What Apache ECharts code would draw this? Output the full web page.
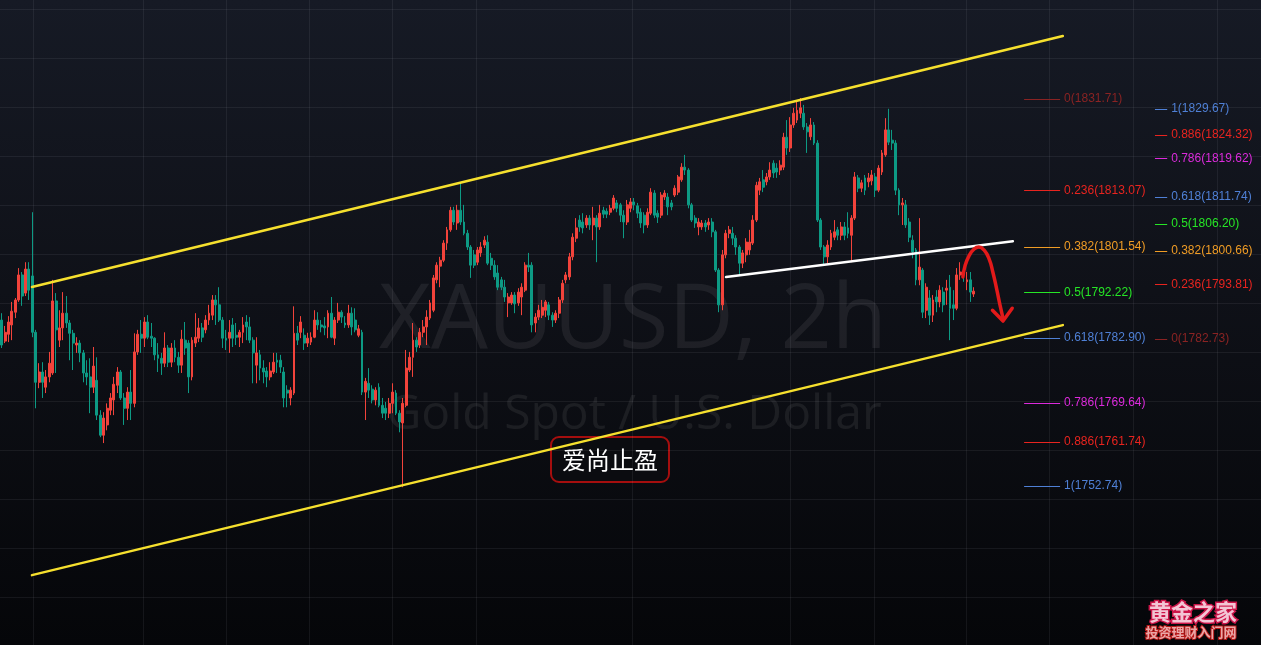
<!DOCTYPE html>
<html><head><meta charset="utf-8">
<script src="https://cdn.jsdelivr.net/npm/echarts/dist/echarts.min.js"></script>
<style>
html,body{margin:0;padding:0;background:#0b0d12;}
#c{width:1261px;height:645px;background:linear-gradient(180deg,#161a25 0%,#0f1118 45%,#050609 100%);}
</style>
</head><body><div id="c"></div>
<script>
// XAUUSD 2h candles: [open, close, low, high]
const candlesA = [
[1786.6,1781.5,1780.9,1788.0],[1782.3,1784.1,1781.9,1785.4],[1783.7,1786.2,1782.1,1787.4],[1785.6,1788.4,1782.5,1790.3],
[1788.2,1790.7,1787.0,1791.1],[1790.7,1795.8,1790.3,1797.2],[1795.8,1791.5,1789.5,1796.4],[1792.1,1797.0,1791.5,1798.4],
[1797.0,1792.7,1790.7,1798.4],[1795.6,1784.1,1783.1,1808.6],[1784.1,1773.9,1768.6,1784.6],[1773.9,1776.0,1772.7,1777.8],
[1776.0,1773.9,1770.7,1778.0],[1772.9,1775.0,1771.7,1776.4],[1775.0,1777.8,1773.9,1780.1],[1775.8,1790.5,1775.4,1794.8],
[1790.5,1784.6,1775.8,1792.1],[1782.5,1785.0,1781.1,1788.6],[1785.0,1788.0,1782.5,1792.3],[1788.0,1786.0,1785.0,1791.5],
[1786.0,1783.9,1778.4,1786.6],[1783.9,1781.9,1776.4,1784.6],[1781.5,1781.9,1779.9,1783.1],[1781.9,1779.9,1778.0,1782.5],
[1779.9,1775.8,1773.9,1780.5],[1775.8,1775.0,1773.3,1778.4],[1775.0,1772.9,1767.6,1778.8],[1772.9,1777.2,1771.7,1781.1],
[1774.3,1767.2,1766.2,1779.0],[1767.2,1763.1,1762.7,1768.2],[1763.1,1766.6,1761.5,1767.8],[1765.2,1768.6,1764.1,1769.6],
[1768.2,1770.7,1767.2,1771.7],[1770.3,1773.5,1767.2,1775.0],[1773.3,1776.0,1771.7,1777.0],[1776.0,1770.7,1770.3,1776.4],
[1770.7,1768.6,1765.2,1771.7],[1768.6,1771.9,1766.2,1772.9],[1771.9,1769.6,1766.2,1776.4],[1769.6,1780.1,1768.8,1783.9],
[1780.1,1783.7,1779.5,1784.6],[1783.7,1782.9,1779.9,1786.6],[1782.9,1786.2,1781.1,1787.2],[1786.2,1783.1,1782.7,1787.6],
[1783.3,1782.9,1781.1,1786.0],[1782.9,1779.5,1778.4,1783.1],[1779.5,1778.8,1776.0,1781.9],[1778.8,1777.8,1775.4,1779.9],
[1777.8,1780.9,1777.0,1784.1],[1780.9,1778.0,1777.0,1781.5],[1778.0,1780.9,1777.0,1781.9],[1780.9,1779.0,1778.0,1782.5],
[1779.0,1777.4,1775.8,1780.1],[1777.4,1782.7,1775.8,1784.6],[1782.5,1780.9,1779.5,1786.2],[1781.9,1775.0,1771.7,1782.5],
[1775.0,1782.5,1774.3,1783.1],[1781.9,1783.1,1781.1,1788.0],[1782.9,1785.0,1782.1,1787.0],[1785.0,1783.1,1782.1,1786.0],
[1784.6,1786.6,1783.9,1787.6],[1786.6,1788.0,1785.6,1789.7],[1787.6,1790.7,1786.6,1791.7],[1790.7,1789.7,1785.6,1791.7],
[1789.7,1786.6,1786.2,1793.3],[1786.6,1782.9,1780.9,1787.2],[1782.9,1782.5,1780.5,1784.6],[1782.9,1784.1,1779.9,1786.6],
[1785.6,1782.9,1781.1,1787.0],[1783.5,1783.1,1781.5,1786.0],[1783.1,1784.1,1781.1,1784.6],[1784.1,1785.6,1781.9,1787.2],
[1786.2,1785.2,1782.5,1787.6],[1785.2,1782.5,1781.9,1787.2],[1782.5,1779.9,1773.7,1783.1],[1777.4,1779.9,1773.7,1783.1],
[1779.5,1776.8,1774.3,1780.5],[1776.8,1776.0,1773.7,1778.4],[1776.2,1775.0,1772.9,1777.0],[1775.0,1776.2,1774.3,1778.0],
[1776.0,1778.0,1775.6,1779.9],[1778.4,1778.0,1775.8,1779.9],[1778.4,1777.0,1775.8,1779.5],[1776.0,1770.7,1768.8,1777.0],
[1772.3,1771.7,1768.8,1773.3],[1770.7,1772.3,1769.2,1772.9],[1771.7,1783.9,1771.3,1789.4],[1783.9,1782.5,1781.5,1785.4]
];
const candlesB = [
[1784.1,1786.2,1782.9,1787.4],[1783.5,1781.9,1780.5,1784.9],[1781.9,1782.9,1781.1,1784.0],[1782.1,1783.1,1781.5,1784.1],
[1783.1,1786.6,1782.9,1788.6],[1786.6,1785.6,1784.6,1788.2],[1785.6,1785.2,1784.1,1786.6],[1785.4,1785.0,1783.5,1787.2],
[1785.2,1788.0,1782.9,1788.6],[1788.0,1783.1,1782.9,1791.3],[1782.9,1786.6,1781.5,1787.2],[1786.6,1788.2,1786.0,1790.1],
[1788.2,1787.2,1786.0,1788.6],[1786.0,1785.6,1785.0,1787.4],[1785.6,1788.0,1785.0,1789.7],[1788.0,1785.2,1783.5,1789.2],
[1786.6,1784.6,1784.1,1789.0],[1783.5,1784.8,1783.1,1785.6],[1784.1,1771.9,1771.3,1784.6],[1771.9,1774.1,1766.2,1774.8],
[1773.7,1772.3,1770.7,1776.8],[1772.5,1770.3,1769.6,1773.3],[1770.3,1772.3,1769.2,1772.9],[1772.9,1769.2,1768.8,1773.7],
[1769.2,1767.6,1766.6,1770.7],[1768.6,1767.6,1766.2,1769.9],[1767.6,1769.6,1766.6,1770.7],[1769.6,1771.9,1767.6,1773.7],
[1771.7,1767.6,1767.2,1772.3],[1767.6,1765.8,1763.7,1768.2],[1765.6,1769.6,1752.5,1770.7],[1769.2,1776.8,1768.8,1780.5],
[1776.4,1779.0,1776.0,1780.1],[1779.0,1782.5,1775.0,1786.0],[1782.5,1781.1,1780.1,1783.1],[1781.5,1784.1,1780.9,1785.0],
[1784.1,1785.2,1783.1,1786.6],[1785.2,1787.2,1781.5,1788.6],[1787.0,1790.1,1786.6,1790.7],[1788.6,1795.2,1788.2,1795.8],
[1794.8,1797.8,1794.1,1798.4],[1797.6,1798.8,1793.3,1799.5],[1798.8,1802.3,1798.4,1802.9],[1802.3,1805.0,1800.9,1805.6],
[1805.0,1809.0,1804.6,1809.7],[1809.0,1806.6,1806.0,1809.7],[1806.4,1809.0,1805.0,1810.1],[1809.0,1806.6,1806.0,1814.6],
[1806.6,1804.3,1803.9,1810.1],[1804.3,1801.5,1800.9,1805.0],[1801.5,1797.8,1795.2,1801.9],[1799.9,1797.8,1797.2,1800.9],
[1798.4,1800.9,1797.8,1801.5],[1800.3,1801.5,1799.5,1802.5],[1801.9,1802.9,1801.3,1803.7],[1802.5,1798.2,1797.8,1803.9],
[1799.2,1797.8,1796.8,1800.3],[1797.8,1795.4,1794.8,1798.8],[1796.2,1793.3,1792.7,1797.8],[1794.8,1793.3,1792.7,1795.4],
[1793.3,1791.3,1790.3,1794.8],[1790.1,1791.3,1787.2,1792.1],[1790.1,1791.7,1789.7,1792.3],[1791.7,1789.9,1788.0,1792.3],
[1790.1,1792.3,1789.5,1793.1],[1791.3,1793.3,1787.6,1794.1],[1792.7,1797.8,1792.3,1798.4],[1797.8,1797.4,1796.4,1800.3],
[1797.8,1785.6,1784.1,1798.4],[1786.0,1787.2,1784.1,1788.0],[1787.2,1788.6,1786.6,1789.7],[1787.6,1789.2,1787.0,1790.7],
[1788.6,1790.3,1787.2,1790.7],[1789.7,1787.6,1786.6,1790.3],[1787.6,1786.6,1785.2,1788.2],[1786.6,1788.0,1786.0,1788.6],
[1788.0,1790.7,1787.0,1791.3],[1790.7,1794.1,1790.1,1794.8],[1794.8,1795.8,1794.1,1796.4],[1795.4,1799.5,1794.8,1800.3],
[1799.5,1803.5,1798.8,1804.3],[1803.3,1805.4,1802.5,1807.4],[1807.0,1805.6,1804.6,1808.0],[1806.6,1805.4,1804.3,1808.4],
[1806.0,1807.4,1805.4,1808.0],[1807.4,1806.0,1805.0,1808.0],[1806.0,1807.4,1802.9,1809.7],[1807.4,1805.6,1798.4,1808.0]
];
const candlesC = [
[1805.6,1808.4,1805.0,1810.1],[1809.0,1808.2,1807.4,1809.7],[1808.8,1808.2,1807.4,1809.4],[1808.6,1809.4,1808.0,1810.1],
[1809.4,1811.5,1809.0,1812.1],[1810.5,1809.4,1808.6,1811.1],[1810.1,1808.0,1806.6,1810.5],[1808.0,1806.6,1803.3,1809.0],
[1806.6,1810.1,1806.0,1811.1],[1809.4,1810.7,1808.6,1811.5],[1810.7,1810.1,1809.0,1811.5],[1809.9,1808.4,1807.4,1810.5],
[1808.6,1806.4,1805.4,1809.4],[1808.0,1806.0,1804.3,1808.6],[1806.0,1808.6,1805.4,1809.4],[1808.4,1812.7,1808.0,1813.5],
[1812.5,1808.0,1807.4,1813.1],[1808.4,1807.6,1806.4,1809.0],[1808.0,1812.1,1807.4,1812.7],[1811.7,1812.5,1811.1,1813.1],
[1811.7,1809.7,1808.0,1812.5],[1810.5,1809.7,1809.0,1811.1],[1812.1,1813.5,1811.7,1814.1],[1812.7,1815.8,1812.1,1816.2],
[1815.2,1817.8,1814.8,1818.6],[1817.8,1817.2,1816.2,1820.3],[1817.2,1810.1,1809.4,1817.6],[1810.1,1807.0,1806.6,1810.5],
[1807.4,1806.4,1805.4,1808.0],[1805.6,1806.6,1803.9,1807.4],[1805.6,1806.4,1805.0,1807.0],[1806.4,1805.6,1804.6,1807.0],
[1806.0,1806.6,1805.0,1807.4],[1806.6,1804.6,1803.5,1807.4],[1804.6,1796.8,1796.4,1805.0],[1796.8,1789.7,1788.2,1797.2],
[1789.7,1799.9,1788.6,1800.9],[1799.9,1804.3,1799.2,1805.0],[1804.3,1805.0,1803.3,1805.8],[1804.3,1803.3,1801.9,1805.6],
[1803.3,1801.5,1799.9,1803.9],[1801.5,1798.2,1795.8,1801.9],[1798.2,1800.3,1797.2,1800.9],[1799.9,1802.5,1798.4,1803.3],
[1800.9,1802.5,1799.9,1805.0],[1802.3,1807.0,1801.9,1808.0],[1807.0,1814.1,1806.6,1814.8],[1813.1,1814.8,1812.1,1815.6],
[1815.2,1813.7,1812.7,1817.2],[1814.8,1815.8,1814.1,1816.6],[1815.8,1817.2,1815.2,1818.8],[1818.6,1816.6,1815.6,1819.2],
[1817.6,1816.8,1815.6,1818.6],[1817.2,1818.2,1816.2,1819.2],[1817.8,1823.9,1817.2,1824.8],[1823.9,1821.7,1820.3,1827.4],
[1821.7,1826.4,1820.9,1828.0],[1826.4,1828.8,1825.8,1829.9],[1827.4,1829.4,1826.8,1831.5],[1828.8,1829.9,1827.8,1831.9],
[1828.8,1826.0,1825.4,1830.5],[1826.0,1825.0,1820.7,1826.8],[1824.0,1826.4,1823.3,1827.8],[1826.4,1822.7,1822.3,1827.0],
[1822.7,1807.0,1806.6,1823.3],[1807.0,1801.5,1800.9,1807.4],[1801.5,1799.5,1797.8,1801.9],[1799.5,1801.9,1798.2,1802.9],
[1801.5,1804.3,1800.9,1805.0],[1803.5,1804.6,1802.9,1807.0],[1805.0,1803.9,1802.9,1805.6],[1803.9,1805.6,1802.9,1806.6],
[1805.6,1803.9,1802.9,1806.6],[1805.4,1804.3,1803.3,1808.6],[1803.9,1807.4,1798.4,1808.0],[1807.4,1815.8,1807.0,1816.8]
];
const candlesD = [
[1815.6,1813.5,1812.7,1816.2],[1813.5,1814.6,1812.7,1815.2],[1815.6,1813.1,1812.1,1816.2],[1814.8,1815.6,1813.7,1816.6],
[1815.0,1816.2,1814.1,1817.2],[1815.8,1813.1,1811.7,1816.6],[1813.1,1817.6,1812.7,1818.2],[1816.8,1820.7,1816.2,1821.3],
[1820.3,1825.4,1819.9,1827.8],[1825.4,1822.9,1822.3,1829.7],[1823.3,1822.7,1821.3,1825.4],[1822.7,1813.1,1812.1,1823.3],
[1813.1,1810.1,1808.0,1813.5],[1810.1,1810.5,1806.0,1811.5],[1810.1,1806.0,1805.4,1811.1],[1806.6,1803.5,1802.5,1807.4],
[1802.9,1800.5,1799.2,1803.9],[1800.9,1794.8,1793.7,1801.3],[1794.8,1797.4,1793.7,1807.4],[1796.8,1788.2,1787.0,1797.2],
[1788.6,1793.3,1787.0,1794.1],[1791.1,1787.6,1785.6,1792.7],[1787.6,1790.7,1786.2,1791.7],[1791.3,1790.3,1788.2,1792.7],
[1790.3,1792.7,1789.2,1793.7],[1792.3,1789.7,1788.2,1793.3],[1792.7,1793.1,1789.7,1794.8],[1793.3,1789.0,1782.5,1795.8],
[1789.7,1789.0,1786.6,1792.7],[1789.0,1795.8,1788.6,1797.2],[1795.8,1796.4,1794.8,1798.4],[1796.4,1795.8,1794.4,1797.2],
[1794.4,1794.8,1792.7,1796.4],[1794.8,1792.3,1790.3,1796.4],[1791.9,1792.5,1791.3,1793.3]
];

// price scale shown in the frame
const priceMin = 1720.3, priceMax = 1851.9;
const slotCount = 371;               // time slots across the frame (incl. empty future space)
const priceGrid = [1730,1740,1750,1760,1770,1780,1790,1800,1810,1820,1830,1840,1850];
const timeGrid = [9.2,41.6,66.0,90.4,114.8,139.5,185.4,231.9,256.6,283.7,308.1,332.8,357.5];

// Fibonacci retracements (level, price, colour)
const fibLeft = [
  ['0',1831.71,'#8a2323'],['0.236',1813.07,'#e8241f'],['0.382',1801.54,'#f09c25'],['0.5',1792.22,'#26e626'],
  ['0.618',1782.90,'#4f80d6'],['0.786',1769.64,'#dc2adc'],['0.886',1761.74,'#e8241f'],['1',1752.74,'#4f80d6']
];
const fibRight = [
  ['1',1829.67,'#4f80d6'],['0.886',1824.32,'#e8241f'],['0.786',1819.62,'#dc2adc'],['0.618',1811.74,'#4f80d6'],
  ['0.5',1806.20,'#26e626'],['0.382',1800.66,'#f09c25'],['0.236',1793.81,'#e8241f'],['0',1782.73,'#8a2323']
];
const fibLeftSpan = [300.8, 311.4];
const fibRightSpan = [339.3, 342.9];

// trend lines [slot, price]
const channelUpper = [[8.9,1793.33],[312.2,1844.55]];
const channelLower = [[8.9,1734.55],[312.2,1785.57]];
const necklineWhite = [[213.1,1795.37],[297.5,1802.70]];
const arrowArc = [[282.8,1795.4],[283.4,1797.6],[284.6,1799.7],[286.1,1801.1],[287.5,1801.5],[289.0,1800.9],
                  [290.5,1799.1],[291.6,1796.4],[292.8,1792.7],[293.7,1789.7],[294.6,1787.0]];
const arrowHead = [[291.5,1788.6],[294.6,1786.4],[297.3,1789.0]];

const candles = candlesA.concat(candlesB, candlesC, candlesD);
const slots = Array.from({length: slotCount}, (_, i) => String(i));

const chart = echarts.init(document.getElementById('c'), null, {renderer: 'canvas'});

function fibSeries(levels, span) {
  return {
    type: 'line', xAxisIndex: 1, yAxisIndex: 0, data: [], silent: true,
    markLine: {
      z: 6, silent: true, symbol: ['none', 'none'], animation: false,
      data: levels.map(([lvl, price, color]) => [
        { coord: [span[0], price], lineStyle: {color: color, width: 1, type: 'solid'},
          label: { show: true, position: 'end', distance: 4, formatter: lvl + '(' + price.toFixed(2) + ')',
                   color: color, fontSize: 12, fontFamily: '"Liberation Sans", Arial, sans-serif' } },
        { coord: [span[1], price] }
      ])
    }
  };
}
function trend(data, color, width, z, smooth) {
  return { type: 'line', xAxisIndex: 1, yAxisIndex: 0, data: data, symbol: 'none', silent: true, z: z,
           smooth: smooth || false, lineStyle: {color: color, width: width, cap: 'round', join: 'round'} };
}

const option = {
  backgroundColor: 'transparent',
  animation: false,
  grid: {left: 0, right: 0, top: 0, bottom: 0, containLabel: false},
  xAxis: [
    {type: 'category', data: slots, show: false, boundaryGap: true},
    {type: 'value', min: -0.5, max: slotCount - 0.5, show: false}
  ],
  yAxis: {type: 'value', min: priceMin, max: priceMax, show: false, splitLine: {show: false}},
  graphic: [
    {type: 'text', x: 633, y: 322, z: 0, silent: true,
     style: {text: 'XAUUSD, 2h', font: '90px "Open Sans", Roboto, sans-serif', fill: 'rgba(255,255,255,0.07)', align: 'center', verticalAlign: 'middle'}},
    {type: 'text', x: 634, y: 415, z: 0, silent: true,
     style: {text: 'Gold Spot / U.S. Dollar', font: '48px "Open Sans", Roboto, sans-serif', fill: 'rgba(255,255,255,0.07)', align: 'center', verticalAlign: 'middle'}},
    {type: 'group', x: 551, y: 437, z: 100, silent: true, children: [
      {type: 'rect', shape: {x: 0, y: 0, width: 118, height: 45, r: 8}, style: {fill: '#0b0c10', stroke: '#a50e0e', lineWidth: 2}},
      {type: 'text', x: 59, y: 23, style: {text: '爱尚止盈', font: '24px "Noto Sans CJK SC", sans-serif', fill: '#ffffff', align: 'center', verticalAlign: 'middle'}}
    ]},
    {type: 'text', x: 1193, y: 612, z: 100, silent: true,
     style: {text: '黄金之家', font: 'bold 22px "Noto Sans CJK SC", sans-serif', fill: '#f3c6d5', stroke: '#cc1549', lineWidth: 3, strokeFirst: true, align: 'center', verticalAlign: 'middle'}},
    {type: 'text', x: 1191, y: 632, z: 100, silent: true,
     style: {text: '投资理财入门网', font: 'bold 13px "Noto Sans CJK SC", sans-serif', fill: '#eaa6a6', stroke: '#b81818', lineWidth: 2, strokeFirst: true, align: 'center', verticalAlign: 'middle'}}
  ],
  series: [
    {
      type: 'line', xAxisIndex: 1, yAxisIndex: 0, data: [], silent: true,
      markLine: {
        z: 1, silent: true, symbol: ['none', 'none'], animation: false, label: {show: false},
        lineStyle: {color: 'rgba(240,243,250,0.065)', width: 1, type: 'solid'},
        data: priceGrid.map(v => ({yAxis: v})).concat(timeGrid.map(v => ({xAxis: v})))
      }
    },
    {
      type: 'candlestick', xAxisIndex: 0, yAxisIndex: 0, data: candles, z: 3,
      barWidth: 2.4, silent: true,
      itemStyle: {color: '#f2433b', color0: '#0d9a84', borderColor: '#f2433b', borderColor0: '#0d9a84', borderWidth: 1}
    },
    trend(channelUpper, '#f6e02e', 2.5, 4),
    trend(channelLower, '#f6e02e', 2.5, 4),
    trend(necklineWhite, '#ffffff', 2.5, 4),
    trend(arrowArc, '#e31a1a', 3.5, 5, 0.5),
    trend(arrowHead, '#e31a1a', 3.5, 5),
    fibSeries(fibLeft, fibLeftSpan),
    fibSeries(fibRight, fibRightSpan)
  ]
};
chart.setOption(option);
</script>
</body></html>
